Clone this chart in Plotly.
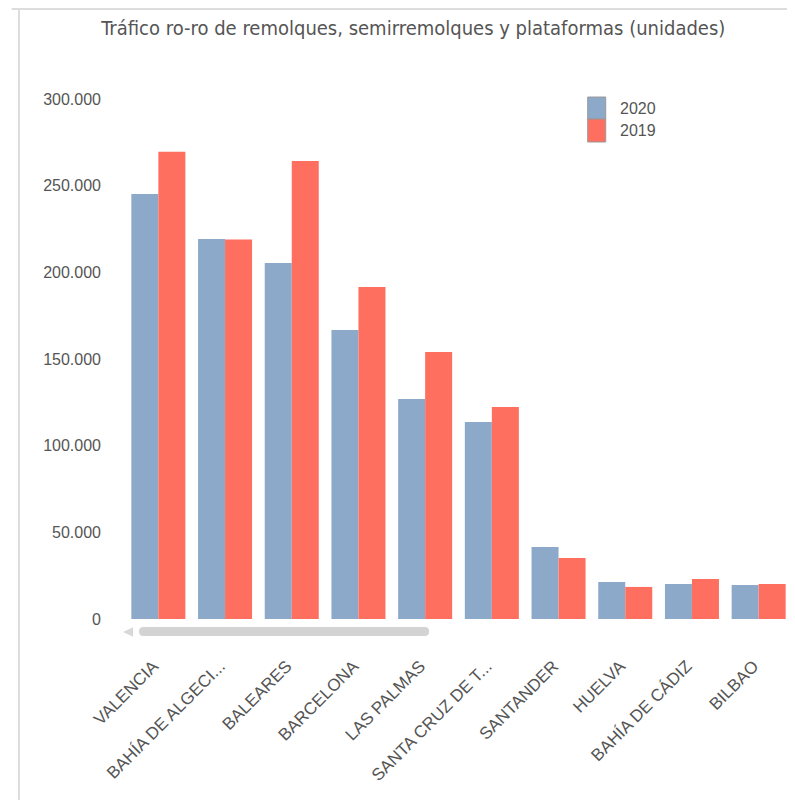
import plotly.graph_objects as go

puertos = ['VALENCIA', 'BAHÍA DE ALGECI...', 'BALEARES', 'BARCELONA', 'LAS PALMAS',
           'SANTA CRUZ DE T...', 'SANTANDER', 'HUELVA', 'BAHÍA DE CÁDIZ', 'BILBAO']
valores_2020 = [245200, 219300, 205400, 166800, 126900, 113700, 41500, 21300, 20200, 19600]
valores_2019 = [269500, 219000, 264300, 191600, 154100, 122300, 35200, 18500, 23100, 20200]
ticks_y = [0, 50000, 100000, 150000, 200000, 250000, 300000]
ticks_y_texto = ['0', '50.000', '100.000', '150.000', '200.000', '250.000', '300.000']

color_2020 = '#8DA9CA'
color_2019 = '#FF6F5F'

fig = go.Figure()
fig.add_trace(go.Bar(x=puertos, y=valores_2020, name='2020', showlegend=False,
                     marker=dict(color=color_2020, line=dict(width=0))))
fig.add_trace(go.Bar(x=puertos, y=valores_2019, name='2019', showlegend=False,
                     marker=dict(color=color_2019, line=dict(width=0))))

# la página tiene 8px de margen en el body: la figura se reduce en consecuencia
fig.update_layout(
    width=787, height=792,
    margin=dict(l=117, r=3, t=91, b=181, autoexpand=False),
    paper_bgcolor='white', plot_bgcolor='white',
    barmode='group', bargap=0.19, bargroupgap=0,
    font=dict(family='Liberation Sans, Arial', color='#555555', size=15),
    title=dict(text='Tráfico ro-ro de remolques, semirremolques y plataformas (unidades)',
               x=0.515, xanchor='center', y=0.975, yanchor='middle',
               font=dict(family='DejaVu Sans Condensed', size=20, color='#555555')),
)
fig.update_yaxes(range=[0, 300000], tickvals=ticks_y, ticktext=ticks_y_texto,
                 showgrid=False, zeroline=False, showline=False, automargin=False,
                 ticklabelstandoff=23, tickfont=dict(size=16, color='#555555'))
fig.update_xaxes(tickangle=-45, showgrid=False, showline=False, ticks='', automargin=False,
                 ticklabelstandoff=33, ticklabelshift=-5, tickfont=dict(size=17, color='#555555'))

# leyenda dibujada a mano (cuadros grandes como en el original)
for nombre, color, y0, y1 in [('2020', color_2020, 1.0038, 0.9615), ('2019', color_2019, 0.9615, 0.9173)]:
    fig.add_shape(type='rect', xref='paper', yref='paper', x0=0.6937, x1=0.7207, y0=y0, y1=y1,
                  fillcolor=color, line=dict(color='#999999', width=1))
    fig.add_annotation(text=nombre, xref='paper', yref='paper', x=0.7387, y=(y0 + y1) / 2,
                       xanchor='left', yanchor='middle', showarrow=False,
                       font=dict(size=16, color='#555555'))

# marco del panel
fig.add_shape(type='line', xref='paper', yref='paper', x0=-0.159, x1=-0.159, y0=1.175, y1=-0.37,
              line=dict(color='#dddddd', width=2))
fig.add_shape(type='line', xref='paper', yref='paper', x0=-0.17, x1=1.01, y0=1.173, y1=1.173,
              line=dict(color='#dddddd', width=2))

# barra de desplazamiento con extremos redondeados
bx0, bx1, by0, by1, rx, ry = 0.021, 0.456, -0.0154, -0.0327, 0.0068, 0.0087
bym = (by0 + by1) / 2
fig.add_shape(type='path', xref='paper', yref='paper',
              path=(f'M {bx0 + rx} {by0} L {bx1 - rx} {by0} Q {bx1} {by0} {bx1} {bym} '
                    f'Q {bx1} {by1} {bx1 - rx} {by1} L {bx0 + rx} {by1} '
                    f'Q {bx0} {by1} {bx0} {bym} Q {bx0} {by0} {bx0 + rx} {by0} Z'),
              fillcolor='#d3d3d3', line=dict(width=0))
fig.add_shape(type='path', xref='paper', yref='paper',
              path='M -0.003 -0.025 L 0.012 -0.016 L 0.012 -0.034 Z',
              fillcolor='#d8d8d8', line=dict(width=0))
fig.add_shape(type='path', xref='paper', yref='paper',
              path='M 1.004 -0.025 L 0.994 -0.015 L 0.994 -0.035 Z',
              fillcolor='#d8d8d8', line=dict(width=0))

fig.write_html("out.html")
